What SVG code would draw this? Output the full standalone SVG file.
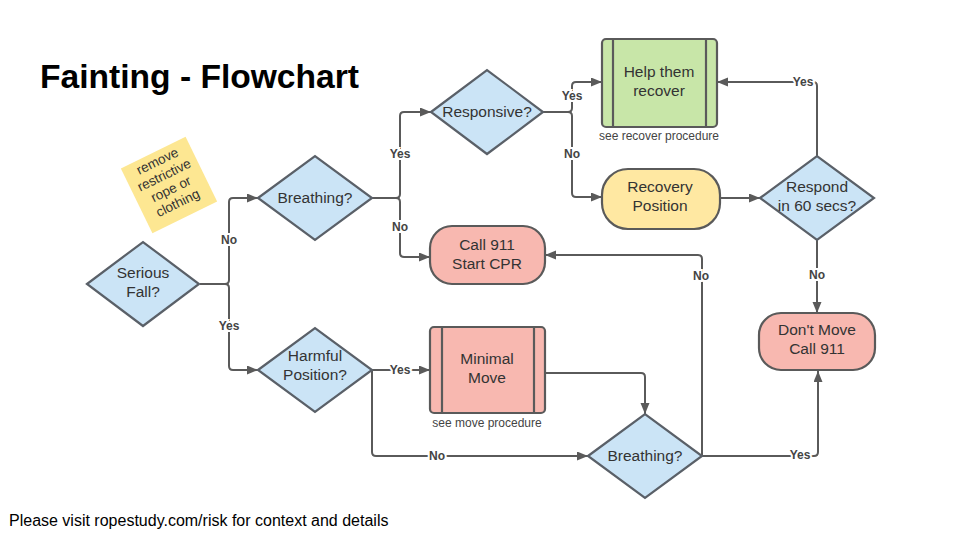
<svg xmlns="http://www.w3.org/2000/svg" width="960" height="540" viewBox="0 0 960 540">
<defs>
<marker id="arr" markerUnits="userSpaceOnUse" markerWidth="12" markerHeight="10" refX="11" refY="4.5" orient="auto">
<path d="M0,0 L11,4.5 L0,9 z" fill="#5a5a5a"/>
</marker>
</defs>
<style>
.d{fill:#cbe4f6;stroke:#5a6068;stroke-width:2.2}
.pink{fill:#f8b8b0;stroke:#5a5a5a;stroke-width:2.2}
.green{fill:#c8e6a8;stroke:#5a5a5a;stroke-width:2.2}
.yellow{fill:#ffe8a2;stroke:#5a5a5a;stroke-width:2.2}
.in{stroke:#5a5a5a;stroke-width:2.2;fill:none}
.t{font-family:"Liberation Sans",Arial,sans-serif;font-size:15.5px;fill:#333;text-anchor:middle}
.c{font-family:"Liberation Sans",Arial,sans-serif;font-size:12px;fill:#444;text-anchor:middle}
.l{font-family:"Liberation Sans",Arial,sans-serif;font-size:12px;font-weight:bold;fill:#444;text-anchor:middle;stroke:#fff;stroke-width:4;paint-order:stroke}
.e{fill:none;stroke:#5a5a5a;stroke-width:2;marker-end:url(#arr)}
</style>
<rect width="960" height="540" fill="#fff"/>
<text x="40" y="88" font-family="Liberation Sans,Arial,sans-serif" font-size="33.6" font-weight="bold" fill="#000">Fainting - Flowchart</text>
<text x="9" y="526" font-family="Liberation Sans,Arial,sans-serif" font-size="16" fill="#000">Please visit ropestudy.com/risk for context and details</text>

<g id="note" transform="translate(169,185) rotate(-26)">
<rect x="-36" y="-36" width="72" height="72" fill="#fde792"/>
<g font-family="Liberation Sans,Arial,sans-serif" font-size="13.5" fill="#333" text-anchor="middle">
<text x="0" y="-22">remove</text>
<text x="0" y="-6.5">restrictive</text>
<text x="0" y="9">rope or</text>
<text x="0" y="24.5">clothing</text>
</g>
</g>

<g id="connectors">
<path class="e" d="M200,284 H225 Q229,284 229,280 V202 Q229,198 233,198 H258"/>
<path class="e" d="M200,284 H225 Q229,284 229,288 V366 Q229,370 233,370 H258"/>
<path class="e" d="M371,198 H396 Q400,198 400,194 V116 Q400,112 404,112 H431"/>
<path class="e" d="M371,198 H396 Q400,198 400,202 V253 Q400,257 404,257 H430"/>
<path class="e" d="M543,112 H568 Q572,112 572,108 V86 Q572,82 576,82 H602"/>
<path class="e" d="M543,112 H568 Q572,112 572,116 V193 Q572,197 576,197 H602"/>
<path class="e" d="M720,198 H760"/>
<path class="e" d="M817,157 V86 Q817,82 813,82 H717"/>
<path class="e" d="M817,240 V313"/>
<path class="e" d="M372,370 H430"/>
<path class="e" d="M372,370 V452 Q372,456 376,456 H588"/>
<path class="e" d="M545,373 H641 Q645,373 645,377 V414"/>
<path class="e" d="M702,456 V259 Q702,255 698,255 H545"/>
<path class="e" d="M702,456 H814 Q818,456 818,452 V371"/>
<text class="l" x="229" y="244">No</text>
<text class="l" x="229" y="330">Yes</text>
<text class="l" x="400" y="158">Yes</text>
<text class="l" x="400" y="231">No</text>
<text class="l" x="572" y="100">Yes</text>
<text class="l" x="572" y="158">No</text>
<text class="l" x="803" y="86">Yes</text>
<text class="l" x="817" y="279">No</text>
<text class="l" x="400" y="374">Yes</text>
<text class="l" x="437" y="460">No</text>
<text class="l" x="701" y="280">No</text>
<text class="l" x="800" y="459">Yes</text>
</g>

<g id="serious-fall">
<polygon class="d" points="87,284 143,242 199,284 143,326"/>
<text class="t" x="143" y="278">Serious</text>
<text class="t" x="143" y="297">Fall?</text>
</g>
<g id="breathing1">
<polygon class="d" points="258,198 315,156 372,198 315,240"/>
<text class="t" x="315" y="203">Breathing?</text>
</g>
<g id="harmful">
<polygon class="d" points="258,370 315,328 372,370 315,412"/>
<text class="t" x="315" y="361">Harmful</text>
<text class="t" x="315" y="380">Position?</text>
</g>
<g id="minimal-move">
<rect class="pink" x="430" y="327" width="115" height="86" rx="4"/>
<line class="in" x1="442" y1="327" x2="442" y2="413"/>
<line class="in" x1="534" y1="327" x2="534" y2="413"/>
<text class="t" x="487" y="364">Minimal</text>
<text class="t" x="487" y="383">Move</text>
<text class="c" x="487" y="427">see move procedure</text>
</g>
<g id="breathing2">
<polygon class="d" points="588,456 645,414 702,456 645,498"/>
<text class="t" x="645" y="461">Breathing?</text>
</g>
<g id="call911">
<rect class="pink" x="430" y="226" width="115" height="58" rx="22"/>
<text class="t" x="487" y="250">Call 911</text>
<text class="t" x="487" y="269">Start CPR</text>
</g>
<g id="responsive">
<polygon class="d" points="431,112 487,70 543,112 487,154"/>
<text class="t" x="487" y="117">Responsive?</text>
</g>
<g id="help-recover">
<rect class="green" x="602" y="39" width="115" height="88" rx="4"/>
<line class="in" x1="613" y1="39" x2="613" y2="127"/>
<line class="in" x1="706" y1="39" x2="706" y2="127"/>
<text class="t" x="659" y="77">Help them</text>
<text class="t" x="659" y="96">recover</text>
<text class="c" x="659" y="140">see recover procedure</text>
</g>
<g id="recovery-position">
<rect class="yellow" x="602" y="169" width="118" height="60" rx="26"/>
<text class="t" x="660" y="192">Recovery</text>
<text class="t" x="660" y="211">Position</text>
</g>
<g id="respond60">
<polygon class="d" points="760,198 817,156 874,198 817,240"/>
<text class="t" x="817" y="192">Respond</text>
<text class="t" x="817" y="211">in 60 secs?</text>
</g>
<g id="dont-move">
<rect class="pink" x="759" y="313" width="116" height="57" rx="22"/>
<text class="t" x="817" y="335">Don't Move</text>
<text class="t" x="817" y="354">Call 911</text>
</g>
</svg>
